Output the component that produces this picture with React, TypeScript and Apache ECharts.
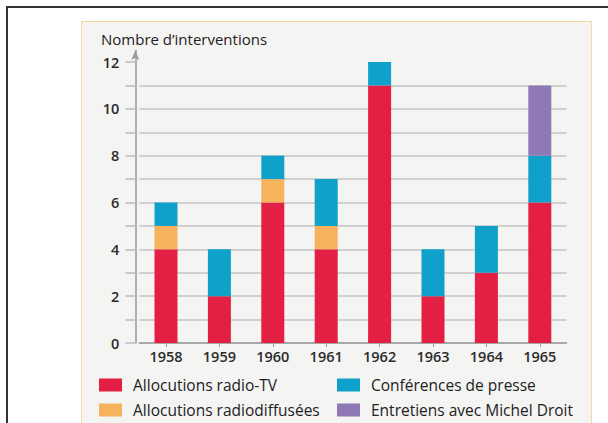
import React, { useEffect, useRef } from "react";
import * as echarts from "echarts";

const years = ["1958", "1959", "1960", "1961", "1962", "1963", "1964", "1965"];
const allocRadioTV = [4, 2, 6, 4, 11, 2, 3, 6];
const allocRadiodiff = [1, 0, 1, 1, 0, 0, 0, 0];
const conferences = [1, 2, 1, 2, 1, 2, 2, 2];
const entretiens = [0, 0, 0, 0, 0, 0, 0, 3];
const yTicks = [0, 1, 2, 3, 4, 5, 6, 7, 8, 9, 10, 11, 12];
const yLabels = [0, 2, 4, 6, 8, 10, 12];
const yTitle = "Nombre d’interventions";
const seriesNames = [
  "Allocutions radio-TV",
  "Allocutions radiodiffusées",
  "Conférences de presse",
  "Entretiens avec Michel Droit",
];

const FONT = "'Open Sans', 'Noto Sans', sans-serif";

export default function App() {
  const ref = useRef<HTMLDivElement>(null);
  useEffect(() => {
    if (!ref.current) return;
    const chart = echarts.init(ref.current, undefined, { renderer: "svg" });
    const mk = (name: string, data: number[], color: string) => ({
      name,
      type: "bar",
      stack: "total",
      data,
      barWidth: 23,
      itemStyle: { color },
      emphasis: { disabled: true },
    });
    const legendPos = [
      [99, 377],
      [99, 402],
      [337, 377],
      [337, 402],
    ];
    const legends = seriesNames.map((n, i) => ({
      left: legendPos[i][0],
      top: legendPos[i][1],
      padding: 0,
      itemWidth: 23,
      itemHeight: 13,
      icon: "rect",
      selectedMode: false,
      data: [n],
      textStyle: { fontFamily: FONT, fontSize: 15.5, color: "#222222", lineHeight: 13, padding: [0, 0, 0, 6] },
    }));
    chart.setOption({
      animation: false,
      textStyle: { fontFamily: FONT },
      title: {
        text: yTitle,
        left: 101,
        top: 31,
        padding: 0,
        textStyle: { fontFamily: FONT, fontSize: 15, fontWeight: "normal", color: "#222222" },
      },
      legend: legends,
      grid: { left: 139.3, right: 41.5, top: 50.3, bottom: 80, containLabel: false },
      xAxis: {
        type: "category",
        data: years,
        axisLine: { show: true, lineStyle: { color: "#9a9a9a", width: 1.5 } },
        axisTick: { show: true, alignWithLabel: true, length: 4, lineStyle: { color: "#9a9a9a", width: 1 } },
        axisLabel: { fontFamily: FONT, fontSize: 14.5, color: "#2b2b2b", margin: 6, fontWeight: 600 },
        splitLine: { show: false },
      },
      yAxis: {
        type: "value",
        min: 0,
        max: 12.5,
        interval: 1,
        offset: 4,
        axisLine: {
          show: true,
          symbol: ["none", "arrow"],
          symbolSize: [6, 10],
          lineStyle: { color: "#9a9a9a", width: 1.5 },
        },
        axisTick: {
          show: true,
          length: 10,
          customValues: yTicks,
          lineStyle: { color: "#bdbdbd", width: 1.5 },
        },
        axisLabel: {
          customValues: yLabels,
          margin: 16,
          fontFamily: FONT,
          fontSize: 14.5,
          color: "#2b2b2b",
          fontWeight: 600,
        },
        splitLine: { show: true, showMaxLine: false, lineStyle: { color: "#c4c4c4", width: 1.5 } },
      },
      series: [
        mk(seriesNames[0], allocRadioTV, "#e32044"),
        mk(seriesNames[1], allocRadiodiff, "#f6b25c"),
        mk(seriesNames[2], conferences, "#10a1ca"),
        mk(seriesNames[3], entretiens, "#8e78b6"),
      ],
    });
    return () => chart.dispose();
  }, []);

  return (
    <div style={{ position: "fixed", left: 0, top: 0, width: 608, height: 423, background: "#ffffff", overflow: "hidden" }}>
      <div
        style={{
          position: "absolute",
          left: 6,
          top: 6,
          width: 700,
          height: 600,
          borderLeft: "2px solid #333",
          borderTop: "2px solid #333",
        }}
      />
      <div
        style={{
          position: "absolute",
          left: 81,
          top: 21,
          width: 509,
          height: 500,
          background: "#f4f4f2",
          border: "1.5px solid #f3d9a0",
        }}
      />
      <div ref={ref} style={{ position: "absolute", left: 0, top: 0, width: 608, height: 423 }} />
    </div>
  );
}
